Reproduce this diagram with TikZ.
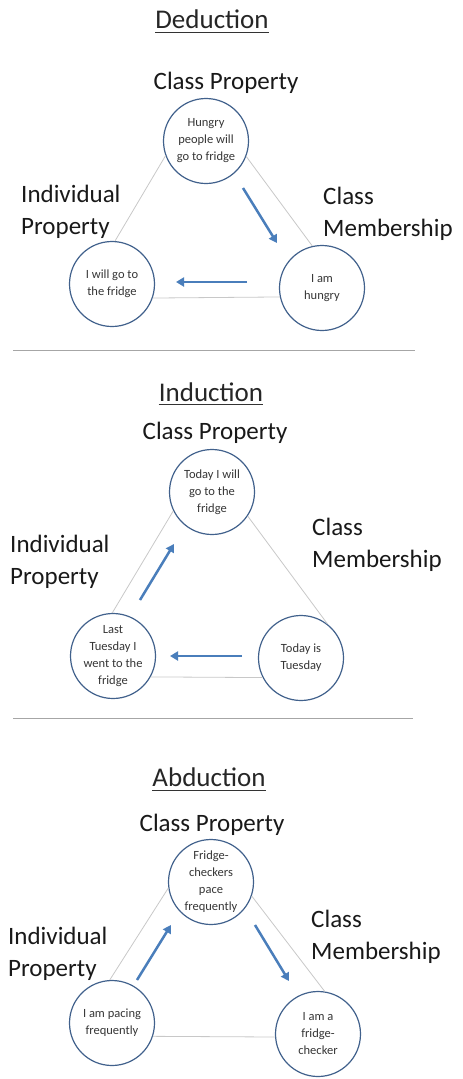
\documentclass[tikz,border=0pt]{standalone}
\usepackage{fontspec}
\setmainfont{Carlito}
\usetikzlibrary{arrows.meta}
\definecolor{ringblue}{HTML}{41618C}
\definecolor{arrowblue}{HTML}{4A7EBB}
\definecolor{edgegray}{HTML}{C8C8C8}
\definecolor{rulegray}{HTML}{A6A6A6}
\definecolor{bodytext}{HTML}{363636}
\begin{document}
\begin{tikzpicture}[x=1pt,y=-1pt,
  stage/.style={circle, draw=ringblue, line width=1.2pt, fill=white,
    minimum size=85pt, inner sep=0pt, align=center,
    font=\fontsize{12.5}{17}\selectfont, text=bodytext},
  role/.style={inner sep=0pt, align=left, anchor=west,
    font=\fontsize{25}{32}\selectfont, text=black!90},
  toprole/.style={inner sep=0pt, font=\fontsize{25}{30}\selectfont, text=black!90},
  heading/.style={inner sep=0pt, font=\fontsize{27}{32}\selectfont, text=black!85},
  headrule/.style={line width=1.1pt, black!80},
  side/.style={edgegray, line width=0.8pt},
  flow/.style={arrowblue, line width=2.5pt, -{Triangle[length=8pt,width=9pt]}},
  divider/.style={rulegray, line width=0.8pt}]

\path[use as bounding box] (0,0) rectangle (463,1079);

% ---------------- Deduction ----------------
\node[heading] (h1) at (212,19) {Deduction};
\draw[headrule] ([yshift=-4pt]h1.base west) -- ([yshift=-4pt]h1.base east);
\node[toprole] (cp1) at (226,83) {Class Property};
\node[role] (cm1) at (323,214) {Class\\Membership};
\node[role] (ip1) at (21,212) {Individual\\Property};

\node[stage] (t1) at (206,141) {Hungry\\people will\\go to fridge};
\node[stage] (l1) at (112,284) {I will go to\\the fridge};
\node[stage] (r1) at (322,288) {I am\\hungry};

\draw[side] (t1.200) -- (l1.86);
\draw[side] (t1.339) -- (r1.103);
\draw[side] (l1.341) -- (r1.192);

\coordinate (d1a) at (243,188); \coordinate (d1b) at (277,243);
\coordinate (d2a) at (247,282); \coordinate (d2b) at (176,282);
\draw[flow] (d1a) -- (d1b);
\draw[flow] (d2a) -- (d2b);

\coordinate (s1a) at (13,350); \coordinate (s1b) at (415,350);
\draw[divider] (s1a) -- (s1b);

% ---------------- Induction ----------------
\node[heading] (h2) at (211,392) {Induction};
\draw[headrule] ([yshift=-3pt]h2.base west) -- ([yshift=-3pt]h2.base east);
\node[toprole] (cp2) at (215,433) {Class Property};
\node[role] (cm2) at (312,545) {Class\\Membership};
\node[role] (ip2) at (10,562) {Individual\\Property};

\node[stage] (t2) at (212,492) {Today I will\\go to the\\fridge};
\node[stage] (l2) at (113,656) {Last\\Tuesday I\\went to the\\fridge};
\node[stage] (r2) at (301,658) {Today is\\Tuesday};

\draw[side] (t2.206) -- (l2.91);
\draw[side] (t2.326) -- (r2.52);
\draw[side] (l2.331) -- (r2.207);

\coordinate (i1a) at (140,600); \coordinate (i1b) at (174,544);
\coordinate (i2a) at (242,656); \coordinate (i2b) at (170,656);
\draw[flow] (i1a) -- (i1b);
\draw[flow] (i2a) -- (i2b);

\coordinate (s2a) at (13,718); \coordinate (s2b) at (413,718);
\draw[divider] (s2a) -- (s2b);

% ---------------- Abduction ----------------
\node[heading] (h3) at (209,777) {Abduction};
\draw[headrule] ([yshift=-4pt]h3.base west) -- ([yshift=-4pt]h3.base east);
\node[toprole] (cp3) at (212,825) {Class Property};
\node[role] (cm3) at (311,937) {Class\\Membership};
\node[role] (ip3) at (8,954) {Individual\\Property};

\node[stage] (t3) at (211,882) {Fridge-\\checkers\\pace\\frequently};
\node[stage] (l3) at (112,1023) {I am pacing\\frequently};
\node[stage] (r3) at (318,1034) {I am a\\fridge-\\checker};

\draw[side] (t3.188) -- (l3.93);
\draw[side] (t3.341) -- (r3.81);
\draw[side] (l3.342) -- (r3.184);

\coordinate (b1a) at (137,980); \coordinate (b1b) at (171,925);
\coordinate (b2a) at (255,925); \coordinate (b2b) at (289,981);
\draw[flow] (b1a) -- (b1b);
\draw[flow] (b2a) -- (b2b);

\end{tikzpicture}
\end{document}
